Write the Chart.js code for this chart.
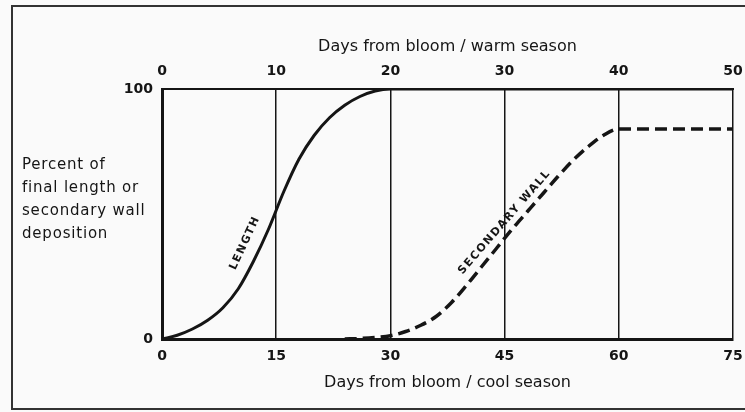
<!DOCTYPE html>
<html>
<head>
<meta charset="utf-8">
<script src="https://cdn.jsdelivr.net/npm/chart.js@4.4.1/dist/chart.umd.min.js"></script>
<style>
  html, body { margin: 0; padding: 0; background: #fafafa; }
  #wrap { width: 745px; height: 412px; position: relative; }
</style>
</head>
<body>
<div id="wrap"><canvas id="chart"></canvas></div>
<script>
// days from bloom, cool season (bottom axis)
var lengthDays = [0, 2, 4, 6, 8, 10, 12, 14, 16, 18, 20, 22, 24, 26, 28, 30, 75];
var lengthPct  = [0, 1.5, 4, 7.5, 12.5, 20, 31, 44, 59, 72, 81.5, 88.5, 93.5, 97, 99.2, 100, 100];

var wallDays = [24, 26, 28, 30, 32, 34, 36, 38, 40, 42, 44, 46, 48, 50, 52, 54, 56, 58, 60, 75];
var wallPct  = [0, 0.2, 0.6, 1.3, 3, 5.5, 9, 14.5, 21.5, 29, 36.5, 44, 51, 58, 65, 71.5, 77, 81.5, 84, 84];

var coolTicks = [0, 15, 30, 45, 60, 75];
var warmTicks = [0, 10, 20, 30, 40, 50];
var yTicks = [0, 100];

var yTitle = ["Percent of", "final length or", "secondary wall", "deposition"];
var curveLabels = [
  { text: "LENGTH", x: 10.9, y: 38.4, angle: -65 },
  { text: "SECONDARY WALL", x: 45.0, y: 46.8, angle: -49 }
];

function pts(xs, ys) {
  return xs.map(function (x, i) { return { x: x, y: ys[i] }; });
}

var ink = '#151515';
var tickFont = { family: 'DejaVu Sans', size: 14, weight: 'bold' };
var titleFont = { family: 'DejaVu Sans', size: 16 };

function noSidePad(s) { s.paddingLeft = 0; s.paddingRight = 0; }

var decor = {
  id: 'decor',
  beforeDraw: function (chart) {
    var ctx = chart.ctx;
    ctx.save();
    ctx.strokeStyle = '#333';
    ctx.lineWidth = 2;
    ctx.strokeRect(12, 6, 760, 403);
    ctx.restore();
  },
  afterDatasetsDraw: function (chart) {
    var ctx = chart.ctx;
    var xs = chart.scales.x, ys = chart.scales.y;
    ctx.save();
    ctx.fillStyle = ink;
    ctx.textAlign = 'center';
    ctx.textBaseline = 'middle';
    ctx.font = 'bold 11px "DejaVu Sans"';
    ctx.letterSpacing = '1.5px';
    curveLabels.forEach(function (l) {
      ctx.save();
      ctx.translate(xs.getPixelForValue(l.x), ys.getPixelForValue(l.y));
      ctx.rotate(l.angle * Math.PI / 180);
      ctx.fillText(l.text, 0, 0);
      ctx.restore();
    });
    ctx.textAlign = 'left';
    ctx.font = '15px "DejaVu Sans"';
    ctx.letterSpacing = '0.8px';
    yTitle.forEach(function (t, i) {
      ctx.fillText(t, 22, 165 + i * 23);
    });
    ctx.restore();
  }
};

new Chart('chart', {
  type: 'line',
  data: {
    datasets: [{
      label: 'Length',
      data: pts(lengthDays, lengthPct),
      borderColor: ink,
      borderWidth: 3,
      pointRadius: 0,
      cubicInterpolationMode: 'monotone',
      fill: false
    }, {
      label: 'Secondary wall',
      data: pts(wallDays, wallPct),
      borderColor: ink,
      borderWidth: 3.5,
      borderDash: [12, 6],
      pointRadius: 0,
      cubicInterpolationMode: 'monotone',
      fill: false
    }]
  },
  options: {
    responsive: true,
    maintainAspectRatio: false,
    animation: false,
    layout: { padding: { left: 0, right: 12, top: 0, bottom: 0 } },
    plugins: { legend: { display: false }, tooltip: { enabled: false } },
    scales: {
      x: {
        type: 'linear',
        position: 'bottom',
        min: 0, max: 75,
        afterBuildTicks: function (s) { s.ticks = coolTicks.map(function (v) { return { value: v }; }); },
        ticks: { color: ink, font: tickFont, padding: 9, maxRotation: 0 },
        grid: { color: ink, lineWidth: 1.5, drawTicks: false },
        border: { color: ink, width: 3 },
        title: { display: true, text: 'Days from bloom / cool season', color: ink, font: titleFont, padding: { top: 0, bottom: 20 } },
        afterFit: function (s) { s.height = 73; noSidePad(s); }
      },
      x2: {
        type: 'linear',
        position: 'top',
        min: 0, max: 50,
        afterBuildTicks: function (s) { s.ticks = warmTicks.map(function (v) { return { value: v }; }); },
        ticks: { color: ink, font: tickFont, padding: 9, maxRotation: 0 },
        grid: { display: false, drawTicks: false },
        border: { color: ink, width: 2 },
        title: { display: true, text: 'Days from bloom / warm season', color: ink, font: titleFont, padding: { top: 37, bottom: 0 } },
        afterFit: function (s) { s.height = 89; noSidePad(s); }
      },
      y: {
        type: 'linear',
        min: 0, max: 100,
        afterBuildTicks: function (s) { s.ticks = yTicks.map(function (v) { return { value: v }; }); },
        ticks: { color: ink, font: tickFont, padding: 9 },
        grid: { display: false, drawTicks: false },
        border: { color: ink, width: 3 },
        afterFit: function (s) { s.width = 162; s.paddingTop = 0; s.paddingBottom = 0; }
      }
    }
  },
  plugins: [decor]
});
</script>
</body>
</html>
